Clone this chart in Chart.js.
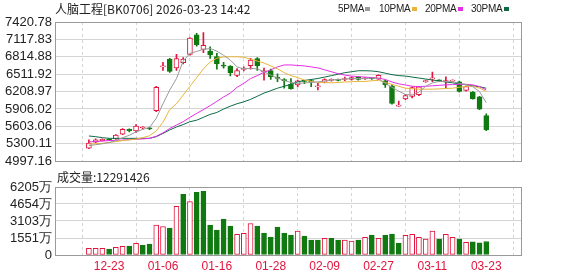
<!DOCTYPE html>
<html>
<head>
<meta charset="utf-8">
<script src="https://cdn.jsdelivr.net/npm/chart.js@4.4.1/dist/chart.umd.min.js"></script>
<style>
  html, body { margin: 0; padding: 0; background: #fff; }
  #wrap { position: relative; width: 578px; height: 276px; overflow: hidden;
          font-family: "Noto Sans CJK SC", "Liberation Sans", sans-serif; color: #222; }
  #c1 { position: absolute; left: 0; top: 0; }
  #c2 { position: absolute; left: 0; top: 172px; }
  .txt { position: absolute; white-space: nowrap; font-size: 12px; line-height: 14px; }
  .lg { position: absolute; top: 3px; font-family: "Liberation Sans", sans-serif; font-size: 10px;
        line-height: 12px; letter-spacing: -0.3px; white-space: nowrap; }
  .sw { position: absolute; top: 7px; width: 5px; height: 4px; }
</style>
</head>
<body>
<div id="wrap">
  <canvas id="c1" width="578" height="172"></canvas>
  <canvas id="c2" width="578" height="104"></canvas>
  <div class="txt" style="left:55px;top:2px;">人脑工程[BK0706] 2026-03-23 14:42</div>
  <div class="lg" style="left:338px;">5PMA</div><div class="sw" style="left:365px;background:#9a9a9a"></div>
  <div class="lg" style="left:379px;">10PMA</div><div class="sw" style="left:412px;background:#e8b53a"></div>
  <div class="lg" style="left:425px;">20PMA</div><div class="sw" style="left:458px;background:#e62ee6"></div>
  <div class="lg" style="left:471px;">30PMA</div><div class="sw" style="left:504px;background:#0b6b45"></div>
  <div class="txt" style="left:57px;top:170px;">成交量:12291426</div>
</div>

<script>
/* ─── Data ───────────────────────────────────────────────────────────────── */
const dates = ['12-18','12-19','12-22','12-23','12-24','12-25','12-26','12-29','12-30','12-31',
  '01-05','01-06','01-07','01-08','01-09','01-12','01-13','01-14','01-15','01-16',
  '01-19','01-20','01-21','01-22','01-23','01-26','01-27','01-28','01-29','01-30',
  '02-02','02-03','02-04','02-05','02-06','02-09','02-10','02-11','02-12','02-13',
  '02-24','02-25','02-26','02-27','03-02','03-03','03-04','03-05','03-06','03-09',
  '03-10','03-11','03-12','03-13','03-16','03-17','03-18','03-19','03-20','03-23'];

const opens  = [5226,5328,5355,5380,5385,5469,5550,5525,5575,5578,
  5875,6640,6774,6622,6712,6858,7196,6943,6914,6820,
  6672,6651,6492,6595,6661,6786,6555,6577,6455,6415,
  6335,6324,6395,6395,6290,6369,6405,6412,6420,6420,
  6465,6430,6440,6425,6398,6307,5955,6082,6127,6155,
  6380,6430,6405,6378,6392,6381,6229,6200,6116,5790];
const highs  = [5368,5385,5385,5390,5460,5565,5560,5636,5600,5590,
  6300,6718,6790,6858,6800,7150,7225,7235,6989,6877,
  6718,6660,6610,6640,6790,6800,6617,6601,6520,6436,
  6436,6410,6403,6420,6352,6430,6430,6425,6460,6465,
  6470,6455,6450,6500,6410,6330,6043,6160,6290,6295,
  6410,6550,6415,6465,6415,6390,6305,6210,6125,5820];
const lows   = [5216,5320,5350,5355,5378,5460,5505,5500,5560,5545,
  5860,6577,6545,6577,6690,6845,7000,6887,6786,6600,
  6617,6482,6470,6570,6600,6577,6408,6420,6381,6268,
  6250,6290,6345,6296,6239,6360,6390,6395,6400,6410,
  6410,6420,6420,6420,6280,5990,5950,6070,6100,6140,
  6370,6381,6390,6268,6385,6200,6215,6075,5895,5530];
const closes = [5311,5368,5377,5365,5452,5554,5530,5610,5580,5561,
  6285,6650,6560,6786,6774,7140,7027,7016,6847,6690,
  6650,6538,6577,6610,6757,6661,6565,6465,6440,6400,
  6256,6398,6388,6382,6300,6420,6412,6404,6428,6453,
  6420,6445,6435,6492,6324,6003,5962,6138,6280,6290,
  6400,6440,6395,6400,6402,6212,6296,6082,5901,5547];
// 成交量（万）
const volumes = [605,605,605,545,696,787,817,1059,878,999,
  2724,2603,2452,4450,5539,4873,5721,5812,2724,2270,
  3269,2633,1877,1968,2876,2633,1998,1635,2543,1998,
  1816,2179,1725,1362,1362,1514,1514,1362,1362,1271,
  1362,1604,1816,1514,1786,1907,1059,1786,1877,1604,
  1453,2179,1453,1877,1604,1453,1150,1211,1120,1229];

const ma5  = [5267,5284,5301,5322,5356,5407,5449,5508,5550,5584,
  5744,5997,6234,6436,6740,6875,6909,6943,6960,6914,
  6841,6757,6639,6605,6614,6605,6555,6496,6445,6403,
  6369,6352,6361,6369,6377,6394,6411,6420,6428,6437,
  6437,6437,6445,6437,6352,6284,6217,6158,6150,6200,
  6302,6361,6386,6386,6381,6352,6335,6293,6209,6015];
const ma10 = [5294,5301,5309,5322,5339,5356,5368,5382,5407,5441,
  5525,5677,5896,5997,6150,6301,6453,6605,6723,6791,
  6813,6816,6816,6808,6774,6740,6707,6656,6605,6538,
  6487,6453,6411,6386,6369,6369,6361,6369,6377,6381,
  6386,6386,6398,6403,6369,6335,6302,6268,6259,6251,
  6251,6251,6256,6263,6268,6285,6302,6302,6268,6212];
const ma20 = [5334,5339,5348,5356,5360,5365,5373,5378,5385,5395,
  5432,5491,5567,5626,5685,5761,5829,5896,5964,6040,
  6116,6183,6284,6352,6436,6487,6546,6588,6639,6673,
  6673,6664,6656,6639,6622,6588,6555,6521,6496,6479,
  6470,6462,6453,6445,6420,6377,6344,6324,6302,6296,
  6302,6310,6318,6327,6330,6335,6335,6327,6296,6239];
const ma30 = [5436,5424,5407,5395,5395,5395,5395,5395,5395,5395,
  5424,5480,5542,5593,5635,5685,5711,5761,5812,5846,
  5905,5955,5998,6031,6074,6128,6183,6225,6268,6302,
  6335,6377,6403,6420,6437,6462,6487,6512,6538,6555,
  6572,6572,6568,6555,6530,6504,6487,6479,6462,6445,
  6428,6411,6394,6377,6361,6344,6327,6310,6293,6268];

const priceTicks = [4997.16, 5300.11, 5603.06, 5906.02, 6208.97, 6511.92, 6814.88, 7117.83, 7420.78];
const volTicks   = [0, 1551, 3103, 4654, 6205];
const dateTicks  = [3, 11, 19, 27, 35, 43, 51, 59];

/* ─── Style ──────────────────────────────────────────────────────────────── */
const RED   = '#e0143c';
const GREEN = '#107a10';
const GRID  = '#d4d4d4';
const FONT  = { family: '"Liberation Sans", Arial, sans-serif', size: 13 };
const xMin = -0.7, xMax = 59.97;

const frame = {
  id: 'frame',
  afterDraw(chart) {
    const { ctx, chartArea: a } = chart;
    ctx.save();
    ctx.strokeStyle = '#9a9a9a';
    ctx.lineWidth = 1;
    ctx.strokeRect(Math.round(a.left) + 0.5, Math.round(a.top) + 0.5,
      Math.round(a.right - a.left) - 1, Math.round(a.bottom - a.top));
    ctx.restore();
  }
};

function xAxis(showLabels) {
  return {
    type: 'linear', min: xMin, max: xMax,
    afterBuildTicks: s => { s.ticks = dateTicks.map(v => ({ value: v })); },
    afterFit: s => { s.height = showLabels ? 21 : 0; },
    grid: { color: GRID, drawTicks: false },
    border: { display: false, dash: [3, 3] },
    ticks: {
      display: showLabels, color: RED, padding: 4, maxRotation: 0, autoSkip: false,
      font: { family: FONT.family, size: 12 },
      callback: v => dates[v] ?? ''
    }
  };
}

function yAxis(min, max, ticks, fmt) {
  return {
    min, max,
    afterBuildTicks: s => { s.ticks = ticks.map(v => ({ value: v })); },
    afterFit: s => { s.width = 55; },
    grid: { color: GRID, drawTicks: false },
    border: { display: false },
    ticks: { color: '#222', padding: 3, font: FONT, autoSkip: false, callback: fmt }
  };
}

const idx = dates.map((_, i) => i);
const isUp = idx.map(i => closes[i] >= opens[i]);
const volUp = idx.map(i => i === 0 || closes[i] >= closes[i - 1]);

function maLine(label, values, color) {
  return {
    type: 'line', label, order: 0,
    data: idx.map(i => ({ x: i, y: values[i] })),
    borderColor: color, borderWidth: 1, pointRadius: 0, tension: 0
  };
}

/* ─── Price chart ────────────────────────────────────────────────────────── */
new Chart(document.getElementById('c1'), {
  type: 'bar',
  data: {
    datasets: [
      maLine('5PMA', ma5, '#9a9a9a'),
      maLine('10PMA', ma10, '#e8b53a'),
      maLine('20PMA', ma20, '#e62ee6'),
      maLine('30PMA', ma30, '#0b6b45'),
      {
        label: 'body', order: 1, grouped: false,
        data: idx.map(i => ({ x: i, y: [opens[i], closes[i]] })),
        backgroundColor: idx.map(i => isUp[i] ? '#fff' : GREEN),
        borderColor: idx.map(i => isUp[i] ? RED : GREEN),
        borderWidth: 1, barThickness: 5, minBarLength: 1, borderSkipped: false
      },
      {
        label: 'wick', order: 2, grouped: false,
        data: idx.map(i => ({ x: i, y: [lows[i], highs[i]] })),
        backgroundColor: idx.map(i => isUp[i] ? RED : GREEN),
        borderWidth: 0, barThickness: 1
      }
    ]
  },
  options: {
    responsive: false, animation: false,
    layout: { padding: { left: 0, right: 56, top: 22, bottom: 7 } },
    plugins: { legend: { display: false }, tooltip: { enabled: false } },
    scales: {
      x: xAxis(false),
      y: yAxis(4997.16, 7420.78, priceTicks, v => v.toFixed(2))
    }
  },
  plugins: [frame]
});

/* ─── Volume chart ───────────────────────────────────────────────────────── */
new Chart(document.getElementById('c2'), {
  type: 'bar',
  data: {
    datasets: [{
      label: '成交量', grouped: false,
      data: idx.map(i => ({ x: i, y: volumes[i] })),
      backgroundColor: idx.map(i => volUp[i] ? '#fff' : GREEN),
      borderColor: idx.map(i => volUp[i] ? RED : GREEN),
      borderWidth: 1, barThickness: 5, borderSkipped: false
    }]
  },
  options: {
    responsive: false, animation: false,
    layout: { padding: { left: 0, right: 56, top: 15, bottom: 0 } },
    plugins: { legend: { display: false }, tooltip: { enabled: false } },
    scales: {
      x: xAxis(true),
      y: yAxis(0, 6205, volTicks, v => v === 0 ? '0' : v + '万')
    }
  },
  plugins: [frame]
});
</script>
</body>
</html>
